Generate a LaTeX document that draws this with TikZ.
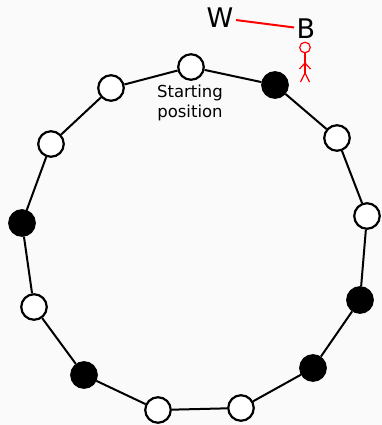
\documentclass[tikz,border=0pt]{standalone}
\usepackage{fontspec}
\setmainfont{DejaVu Sans}
\usetikzlibrary{positioning}
\definecolor{paper}{RGB}{250,250,250}

\begin{document}
\begin{tikzpicture}[x=1pt,y=-1pt,
	    seat/.style={circle,draw,line width=2.2pt,minimum size=25.5pt,inner sep=0pt,fill=white},
	    taken/.style={seat,fill=black},
	    label/.style={font=\fontsize{27}{30}\selectfont,inner sep=2.5pt}]
	    \fill[paper] (0,0) rectangle (382,425);
	    \useasboundingbox (0,0) rectangle (382,425);
	    % the ring of seats, clockwise from the top
	    \node[seat]  (s1)  at (191,67)  {};
	    \node[taken] (s2)  at (275,85)  {};
	    \node[seat]  (s3)  at (337,138) {};
	    \node[seat]  (s4)  at (367,216) {};
	    \node[taken] (s5)  at (360,300) {};
	    \node[taken] (s6)  at (313,368) {};
	    \node[seat]  (s7)  at (241,408) {};
	    \node[seat]  (s8)  at (158,410) {};
	    \node[taken] (s9)  at (84,375)  {};
	    \node[seat]  (s10) at (34,307)  {};
	    \node[taken] (s11) at (22,223)  {};
	    \node[seat]  (s12) at (51,144)  {};
	    \node[seat]  (s13) at (111,88)  {};
	    \draw[line width=2pt] (s1) -- (s2) -- (s3) -- (s4) -- (s5) -- (s6) -- (s7)
	        -- (s8) -- (s9) -- (s10) -- (s11) -- (s12) -- (s13) -- (s1);
	    \node[align=center,font=\fontsize{16.5}{19.5}\selectfont] (start) at (190,103) {Starting\\position};
	    % the two players
	    \node[label] (W) at (220,18) {W};
	    \node[label] (B) at (306,29) {B};
	    \draw[red,line width=2pt] (W) -- (B);
	    \begin{scope}[red,line width=1.2pt]
	        \draw (305,47.5) circle (5.3);
	        \draw (305,53) -- (305,73);
	        \draw (299.5,69) -- (305,63) -- (310.5,69);
	        \draw (300.5,82) -- (305,73) -- (309.5,82);
	    \end{scope}
	\end{tikzpicture}
\end{document}
